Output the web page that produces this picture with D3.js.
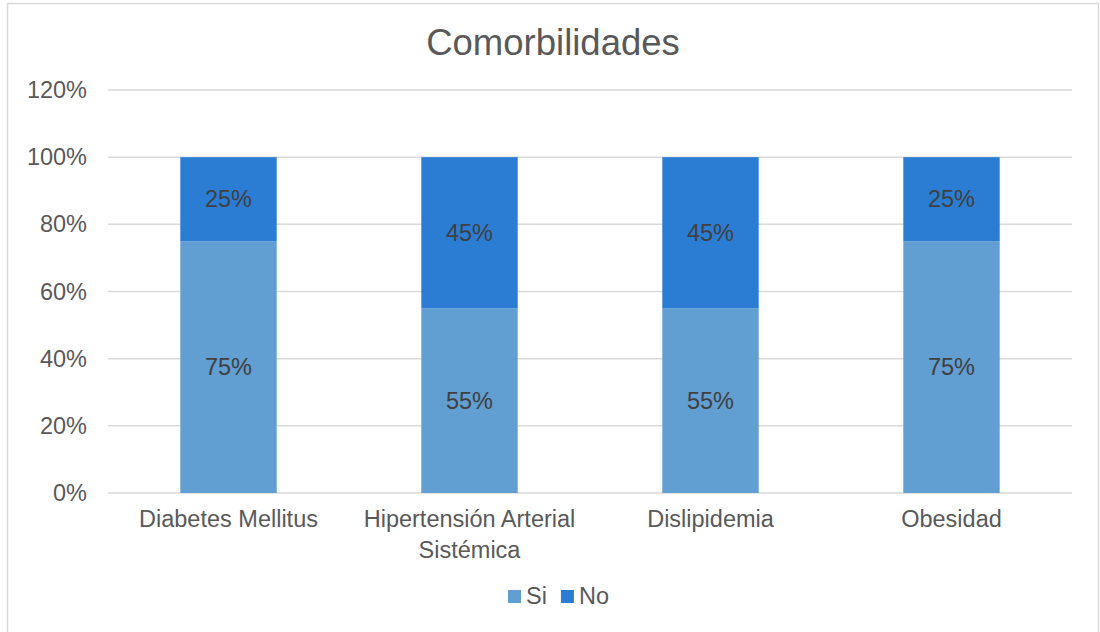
<!DOCTYPE html>
<html>
<head>
<meta charset="utf-8">
<script src="https://cdn.jsdelivr.net/npm/d3@7"></script>
<style>
  html, body { margin: 0; padding: 0; background: #fff; }
  svg text { font-family: "Liberation Sans", Arial, sans-serif; }
</style>
</head>
<body>
<svg id="chart" width="1100" height="632"></svg>
<script>
// Comorbidity shares, stacked to 100%
const categories = ["Diabetes Mellitus", "Hipertensión Arterial Sistémica", "Dislipidemia", "Obesidad"];
const si = [0.75, 0.55, 0.55, 0.75];
const no = [0.25, 0.45, 0.45, 0.25];
const seriesNames = ["Si", "No"];
const yTicks = [0, 0.2, 0.4, 0.6, 0.8, 1.0, 1.2];
const title = "Comorbilidades";

const colors = { Si: "#619ed2", No: "#2b7cd3" };

const svg = d3.select("#chart");

// chart frame
svg.append("rect")
  .attr("x", 7.5).attr("y", 3.5)
  .attr("width", 1091).attr("height", 640)
  .attr("fill", "#fff")
  .attr("stroke", "#d9d9d9").attr("stroke-width", 1.5);

const plot = { left: 108, right: 1072, top: 90, bottom: 493 };

const x = d3.scaleBand()
  .domain(categories)
  .range([plot.left, plot.right])
  .paddingInner(0.6)
  .paddingOuter(0.3);

const y = d3.scaleLinear()
  .domain([0, 1.2])
  .range([plot.bottom, plot.top]);

// gridlines
svg.append("g")
  .selectAll("line")
  .data(yTicks)
  .join("line")
  .attr("x1", plot.left).attr("x2", plot.right)
  .attr("y1", d => y(d)).attr("y2", d => y(d))
  .attr("stroke", "#d9d9d9").attr("stroke-width", 1.5);

// y axis labels
const yAxis = svg.append("g")
  .attr("transform", `translate(${plot.left},0)`)
  .call(d3.axisLeft(y).tickValues(yTicks).tickFormat(d3.format(".0%")).tickSize(0).tickPadding(21));
yAxis.select(".domain").remove();
yAxis.selectAll("text")
  .attr("fill", "#595959")
  .style("font-size", "23.5px")
  .style("font-family", "'Liberation Sans', Arial, sans-serif");

// stacked data
const rows = categories.map((c, i) => ({ cat: c, Si: si[i], No: no[i] }));
const stack = d3.stack().keys(seriesNames)(rows);

const layers = svg.append("g")
  .selectAll("g")
  .data(stack)
  .join("g")
  .attr("fill", d => colors[d.key]);

layers.selectAll("rect")
  .data(d => d)
  .join("rect")
  .attr("x", d => x(d.data.cat))
  .attr("width", x.bandwidth())
  .attr("y", d => y(d[1]))
  .attr("height", d => y(d[0]) - y(d[1]));

// value labels inside segments
layers.selectAll("text")
  .data(d => d.map(v => ({ v, key: d.key })))
  .join("text")
  .attr("x", d => x(d.v.data.cat) + x.bandwidth() / 2)
  .attr("y", d => y((d.v[0] + d.v[1]) / 2))
  .attr("dy", "0.35em")
  .attr("text-anchor", "middle")
  .attr("fill", "#404040")
  .style("font-size", "23.5px")
  .text(d => d3.format(".0%")(d.v.data[d.key]));

// x axis
const xAxis = svg.append("g")
  .attr("transform", `translate(0,${plot.bottom})`)
  .call(d3.axisBottom(x).tickSize(0).tickPadding(0));
xAxis.select(".domain").remove();
xAxis.selectAll("text")
  .attr("fill", "#595959")
  .style("font-size", "23.5px")
  .style("font-family", "'Liberation Sans', Arial, sans-serif")
  .attr("y", 34)
  .attr("dy", 0)
  .each(function () {
    // wrap long category names to the band step
    const t = d3.select(this);
    const words = t.text().split(" ");
    const maxW = x.step() - 10;
    t.text(null);
    let line = [];
    let tspan = t.append("tspan").attr("x", 0).attr("dy", 0);
    words.forEach(w => {
      line.push(w);
      tspan.text(line.join(" "));
      if (tspan.node().getComputedTextLength() > maxW && line.length > 1) {
        line.pop();
        tspan.text(line.join(" "));
        line = [w];
        tspan = t.append("tspan").attr("x", 0).attr("dy", 31).text(w);
      }
    });
  });

// title
svg.append("text")
  .attr("x", 553).attr("y", 55)
  .attr("text-anchor", "middle")
  .attr("fill", "#595959")
  .style("font-size", "36.5px")
  .text(title);

// legend
const legend = svg.append("g").attr("transform", "translate(508,590)");
let lx = 0;
seriesNames.forEach(name => {
  const g = legend.append("g").attr("transform", `translate(${lx},0)`);
  g.append("rect").attr("width", 13).attr("height", 13).attr("fill", colors[name]);
  const t = g.append("text")
    .attr("x", 18).attr("y", 14)
    .attr("fill", "#595959")
    .style("font-size", "23.5px")
    .text(name);
  lx += 18 + t.node().getComputedTextLength() + 14;
});
</script>
</body>
</html>
